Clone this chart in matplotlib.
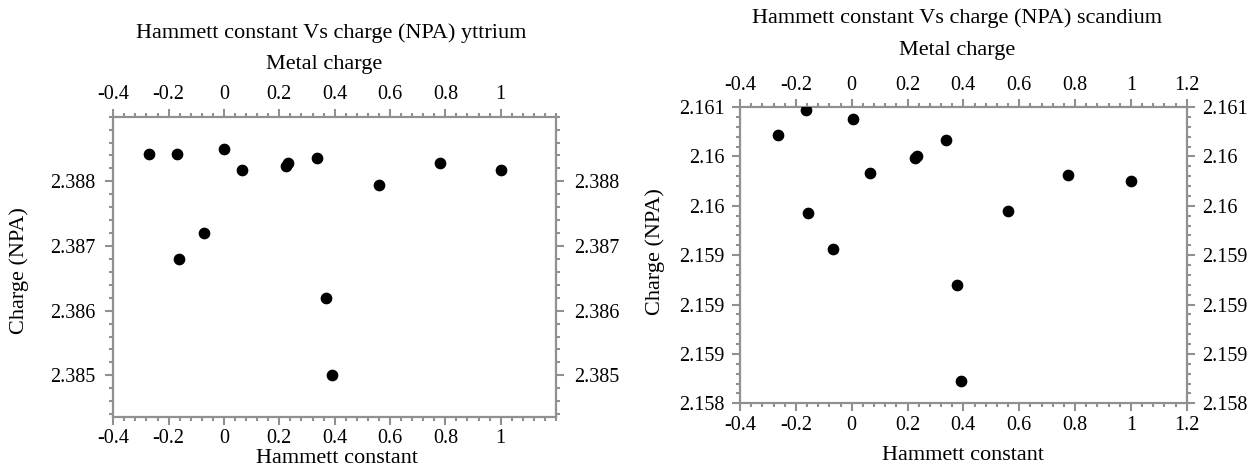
import matplotlib
matplotlib.use("Agg")
import matplotlib.pyplot as plt
from matplotlib.ticker import MultipleLocator, FixedLocator, FixedFormatter
import numpy as np

plt.rcParams['font.family'] = ['Liberation Serif', 'DejaVu Serif']

# yttrium panel
hammett_y = [-0.27, -0.17, 0.0, 0.065, 0.225, 0.23, 0.337, 0.562, 0.782, 1.0, -0.073, -0.162, 0.37, 0.39]
charge_y = [2.38842, 2.38842, 2.38850, 2.38818, 2.38823, 2.38829, 2.38836, 2.38794, 2.38829, 2.38818,
            2.38720, 2.38680, 2.38619, 2.38500]

# scandium panel
hammett_sc = [-0.264, -0.164, 0.005, 0.064, 0.228, 0.233, 0.339, 0.561, 0.776, 1.0, -0.156, -0.067, 0.376, 0.393]
charge_sc = [2.16072, 2.16097, 2.16088, 2.16033, 2.16048, 2.16050, 2.16067, 2.15995, 2.16031, 2.16025,
             2.15993, 2.15956, 2.15920, 2.15823]

x_ticks_y = [-0.4, -0.2, 0, 0.2, 0.4, 0.6, 0.8, 1]
x_labels_y = ['-0.4', '-0.2', '0', '0.2', '0.4', '0.6', '0.8', '1']
y_ticks_y = [2.385, 2.386, 2.387, 2.388]
y_labels_y = ['2.385', '2.386', '2.387', '2.388']

x_ticks_sc = [-0.4, -0.2, 0, 0.2, 0.4, 0.6, 0.8, 1, 1.2]
x_labels_sc = ['-0.4', '-0.2', '0', '0.2', '0.4', '0.6', '0.8', '1', '1.2']
y_ticks_sc = [2.158, 2.1585, 2.159, 2.1595, 2.160, 2.1605, 2.161]
y_labels_sc = ['2.158', '2.159', '2.159', '2.159', '2.16', '2.16', '2.161']

fig = plt.figure(figsize=(12.56, 4.70), dpi=100)
ax1 = fig.add_axes([0.0902, 0.1134, 0.3525, 0.6383])
ax2 = fig.add_axes([0.5892, 0.1419, 0.3556, 0.6304])

gray = '#909090'
fs_tick = 14.5
fs_text = 16


def style(ax, xt, xl, yt, yl, xminor, yminor, ypad):
    ax.xaxis.set_major_locator(FixedLocator(xt))
    ax.xaxis.set_major_formatter(FixedFormatter(xl))
    ax.yaxis.set_major_locator(FixedLocator(yt))
    ax.yaxis.set_major_formatter(FixedFormatter(yl))
    ax.xaxis.set_minor_locator(MultipleLocator(xminor))
    ax.yaxis.set_minor_locator(MultipleLocator(yminor))
    ax.tick_params(which='both', direction='out', top=True, right=True,
                   labeltop=True, labelright=True, color=gray, width=1.5,
                   labelsize=fs_tick, labelcolor='black')
    ax.tick_params(which='major', length=6, pad=3)
    ax.tick_params(axis='y', which='major', pad=ypad)
    ax.tick_params(which='minor', length=3)
    for s in ax.spines.values():
        s.set_color(gray)
        s.set_linewidth(1.6)


ax1.scatter(hammett_y, charge_y, s=55, color='black', zorder=3)
ax1.set_xlim(-0.4, 1.2)
ax1.set_ylim(2.38436, 2.389)
style(ax1, x_ticks_y, x_labels_y, y_ticks_y, y_labels_y, 0.04, 0.0002, 7)

ax2.scatter(hammett_sc, charge_sc, s=55, color='black', zorder=3)
ax2.set_xlim(-0.4, 1.2)
ax2.set_ylim(2.158, 2.161)
style(ax2, x_ticks_sc, x_labels_sc, y_ticks_sc, y_labels_sc, 0.04, 0.0001, 5)

# titles and labels
fig.text(0.264, 0.930, 'Hammett constant Vs charge (NPA) yttrium', ha='center', va='center', fontsize=fs_text)
fig.text(0.258, 0.862, 'Metal charge', ha='center', va='center', fontsize=fs_text)
fig.text(0.268, 0.024, 'Hammett constant', ha='center', va='center', fontsize=fs_text)
fig.text(0.015, 0.425, 'Charge (NPA)', ha='center', va='center', rotation=90, fontsize=fs_text)

fig.text(0.762, 0.962, 'Hammett constant Vs charge (NPA) scandium', ha='center', va='center', fontsize=fs_text)
fig.text(0.762, 0.893, 'Metal charge', ha='center', va='center', fontsize=fs_text)
fig.text(0.767, 0.030, 'Hammett constant', ha='center', va='center', fontsize=fs_text)
fig.text(0.522, 0.465, 'Charge (NPA)', ha='center', va='center', rotation=90, fontsize=fs_text)

plt.savefig('out.png', dpi=100)
plt.close()
